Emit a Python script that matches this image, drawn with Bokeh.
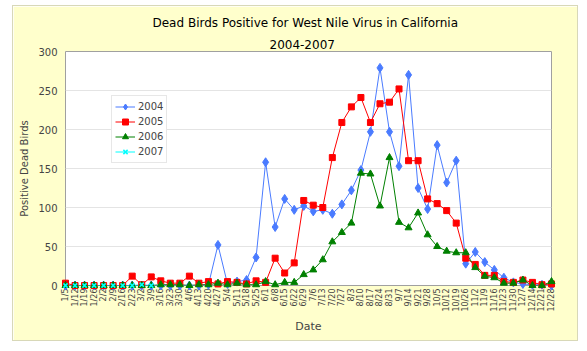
import math
from bokeh.plotting import figure
from bokeh.models import Range1d, FixedTicker, Legend, LegendItem, Title
from bokeh.embed import file_html
from bokeh.resources import INLINE

dates = ["1/5", "1/12", "1/19", "1/26", "2/2", "2/9", "2/16", "2/23", "3/2", "3/9",
         "3/16", "3/23", "3/30", "4/6", "4/13", "4/20", "4/27", "5/4", "5/11", "5/18",
         "5/25", "6/1", "6/8", "6/15", "6/22", "6/29", "7/6", "7/13", "7/20", "7/27",
         "8/3", "8/10", "8/17", "8/24", "8/31", "9/7", "9/14", "9/21", "9/28", "10/5",
         "10/12", "10/19", "10/26", "11/2", "11/9", "11/16", "11/23", "11/30", "12/7",
         "12/14", "12/21", "12/28"]

y2004 = [0, 0, 0, 0, 0, 0, 0, 0, 0, 0, 0, 0, 0, 0, 0, 1, 52, 2, 5, 7,
         36, 158, 75, 111, 97, 102, 95, 97, 92, 104, 122, 148, 197, 279, 197, 153,
         270, 125, 98, 180, 132, 160, 28, 43, 30, 20, 10, 4, 2, 1, 1, 0]
y2005 = [3, 0, 0, 0, 0, 0, 0, 12, 1, 11, 6, 3, 3, 12, 3, 5, 2, 5, 4, 2,
         6, 4, 35, 16, 29, 109, 103, 100, 164, 209, 229, 241, 209, 233, 235, 252,
         160, 160, 111, 105, 96, 80, 35, 27, 13, 13, 5, 4, 7, 4, 1, 2]
y2006 = [0, 0, 0, 0, 0, 0, 0, 0, 0, 0, 1, 1, 1, 0, 1, 1, 3, 1, 3, 1,
         1, 5, 1, 4, 4, 14, 20, 33, 56, 68, 80, 144, 143, 102, 164, 81,
         74, 93, 65, 50, 44, 42, 42, 23, 12, 10, 3, 3, 7, 0, 0, 5]
y2007 = [0, 0, 0, 0, 0, 0, 0, 0, 1, 0]

y_ticks = [0, 50, 100, 150, 200, 250, 300]

FONT = "DejaVu Sans"

p = figure(width=566, height=336, output_backend="svg", toolbar_location=None,
           x_range=Range1d(0, len(dates) - 1), y_range=Range1d(0, 300),
           min_border_left=52, min_border_right=28, min_border_top=45, min_border_bottom=57,
           margin=(5, 0, 0, 12))
p.styles = {"border": "1px solid #D8D8B8"}
p.border_fill_color = "#FFFFCC"
p.background_fill_color = "white"
p.outline_line_color = "#A0A0A0"
p.outline_line_width = 1

# titles (outer line is p.title, inner line added closer to the frame)
p.title.text = "Dead Birds Positive for West Nile Virus in California"
p.title.align = "left"
p.title.offset = 87
p.title.standoff = 12
p.title.text_font = FONT
p.title.text_font_size = "12px"
p.title.text_font_style = "normal"
p.title.text_color = "black"
t2 = Title(text="2004-2007", align="left", offset=204, standoff=5, text_font=FONT,
           text_font_size="12px", text_font_style="normal", text_color="black")
p.add_layout(t2, "above")

# axes
xa = p.xaxis[0]
xa.ticker = FixedTicker(ticks=list(range(len(dates))))
xa.major_label_overrides = {i: d for i, d in enumerate(dates)}
xa.major_label_orientation = math.pi / 2
xa.major_label_text_font = FONT
xa.major_label_text_font_size = "8px"
xa.major_label_standoff = 3
xa.major_tick_out = 0
xa.major_tick_in = 0
xa.minor_tick_out = 0
xa.minor_tick_in = 0
xa.axis_line_color = None
xa.axis_label = "Date"
xa.axis_label_text_font = FONT
xa.axis_label_text_font_size = "11px"
xa.axis_label_text_font_style = "normal"
xa.axis_label_standoff = 5

ya = p.yaxis[0]
ya.ticker = FixedTicker(ticks=y_ticks)
ya.major_label_text_font = FONT
ya.major_label_text_font_size = "10px"
ya.major_label_standoff = 8
ya.major_tick_out = 0
ya.major_tick_in = 0
ya.minor_tick_out = 0
ya.minor_tick_in = 0
ya.axis_line_color = None
ya.axis_label = "Positive Dead Birds"
ya.axis_label_text_font = FONT
ya.axis_label_text_font_size = "10px"
ya.axis_label_text_font_style = "normal"
ya.axis_label_standoff = 5

p.xgrid.visible = False
p.ygrid.grid_line_color = "#E4E4E4"
p.ygrid.grid_line_width = 1

x_all = list(range(len(dates)))

series = [
    ("2004", y2004, "#4A7BFF", "diamond", 9),
    ("2005", y2005, "#FF0000", "square", 6),
    ("2006", y2006, "#008000", "triangle", 7),
    ("2007", y2007, "#00FFFF", "x", 6),
]

items = []
for name, ys, color, marker, size in series:
    xs = x_all[:len(ys)]
    l = p.line(xs, ys, line_color=color, line_width=1)
    s = p.scatter(xs, ys, marker=marker, size=size, fill_color=color, line_color=color,
                  line_width=1.5 if marker == "x" else 1, level="overlay")
    items.append(LegendItem(label=name, renderers=[l, s]))

legend = Legend(items=items, location=(46, 122))
legend.border_line_color = "#D0D0D0"
legend.background_fill_color = "white"
legend.background_fill_alpha = 1
legend.label_text_font = FONT
legend.label_text_font_size = "10px"
legend.glyph_width = 20
legend.glyph_height = 15
legend.label_height = 15
legend.spacing = 0
legend.padding = 3
legend.margin = 0
legend.label_standoff = 3
p.add_layout(legend)

open("out.html", "w").write(file_html(p, INLINE))
